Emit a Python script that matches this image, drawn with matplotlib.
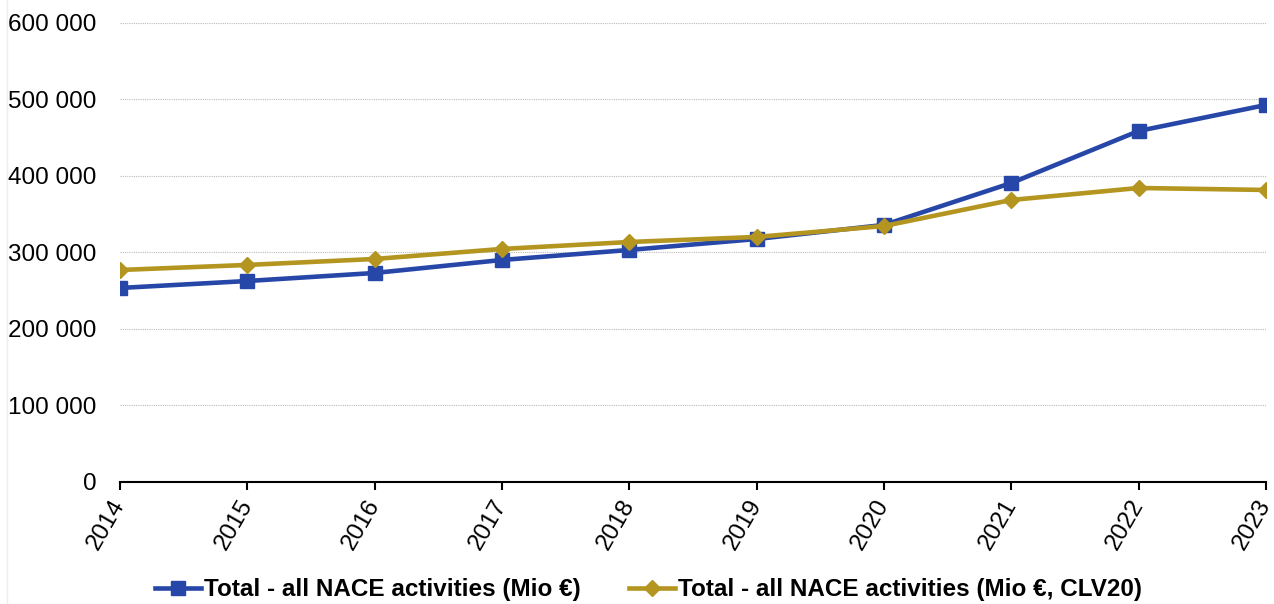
import matplotlib
matplotlib.use("Agg")
import matplotlib.pyplot as plt
from matplotlib.ticker import FuncFormatter
from matplotlib.lines import Line2D

plt.rcParams['font.family'] = ['Liberation Sans', 'DejaVu Sans']

years = ["2014", "2015", "2016", "2017", "2018", "2019", "2020", "2021", "2022", "2023"]
current_prices = [253600, 262700, 273200, 290200, 303300, 317600, 336000, 390800, 458800, 492800]
chain_linked = [277100, 283700, 291500, 304600, 313700, 320300, 334600, 368600, 384300, 381700]

labels = ["Total - all NACE activities (Mio €)", "Total - all NACE activities (Mio €, CLV20)"]
blue = "#2747A8"
gold = "#B3951F"

fig = plt.figure(figsize=(12.74, 6.04), dpi=100)
ax = fig.add_axes([0.0942, 0.202, 0.8995, 0.760])

# faint frame line on the left edge of the figure
fig.add_artist(Line2D([7 / 1274, 7 / 1274], [0, 1], transform=fig.transFigure,
                      color='#EEEEEE', lw=1))

x = list(range(len(years)))
ax.plot(x, current_prices, color=blue, lw=3.3, marker='s', ms=9.5, label=labels[0], zorder=3)
ax.plot(x, chain_linked, color=gold, lw=3.3, marker='D', ms=8, label=labels[1], zorder=4)

ax.set_xlim(0, len(years) - 1)
ax.set_ylim(0, 600000)
ax.set_yticks(range(0, 600001, 100000))
ax.yaxis.set_major_formatter(FuncFormatter(lambda v, p: f"{int(v):,}".replace(",", " ")))
ax.set_xticks(x)
ax.set_xticklabels(years, rotation=60, ha='right', va='center', rotation_mode='anchor')

ax.grid(axis='y', color='#BBBBBB', linestyle=(0, (1, 1)), linewidth=0.8)
ax.set_axisbelow(True)
for s in ['top', 'right', 'left']:
    ax.spines[s].set_visible(False)
ax.spines['bottom'].set_color('black')
ax.spines['bottom'].set_linewidth(1.5)
ax.tick_params(axis='y', length=0, labelsize=17.5, pad=17)
ax.tick_params(axis='x', length=6, width=1.5, direction='out', labelsize=17.5, pad=8)

leg = fig.legend(loc='lower center', bbox_to_anchor=(0.509, -0.032), ncol=2, frameon=False,
                 prop={'weight': 'bold', 'size': 17.5}, handlelength=1.9, handletextpad=0.1,
                 columnspacing=2.0)

fig.savefig("out.png", dpi=100)
